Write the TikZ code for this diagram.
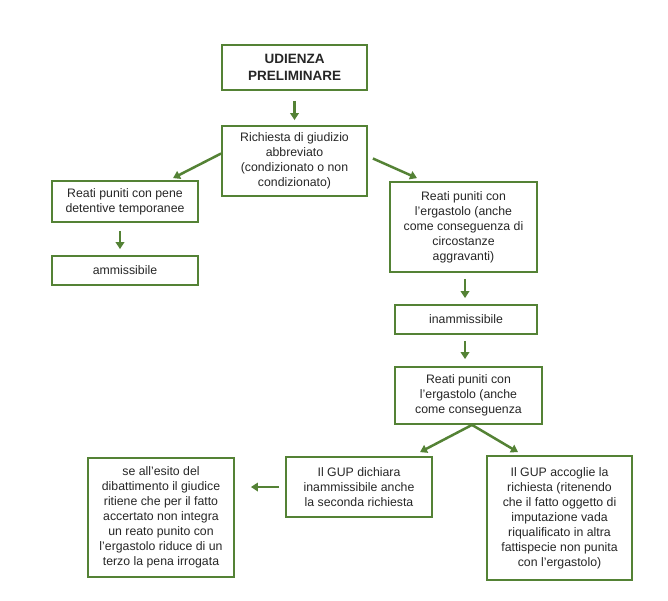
\documentclass[tikz,border=0pt]{standalone}
\usepackage{fontspec}
\setmainfont{Liberation Sans}
\usepackage{xcolor}
\usetikzlibrary{arrows.meta}
\definecolor{verde}{RGB}{84,130,53}

\begin{document}
\begin{tikzpicture}[x=1pt, y=-1pt,
        box/.style={draw=verde, line width=1.8pt, align=center, inner sep=2pt, text=black!85,
            font=\fontsize{12.3}{15}\selectfont},
        freccia/.style={draw=verde, line width=2.5pt, -{Triangle[length=7pt,width=8.5pt]}}
    ]
        \useasboundingbox (0,0) rectangle (668,600);
        \node[box, minimum width=145pt, minimum height=45pt, font=\bfseries\fontsize{13.5}{17}\selectfont] (udienza) at (294.5,67.5) {UDIENZA\\PRELIMINARE};
        \node[box, minimum width=145pt, minimum height=70pt] (richiesta) at (294.5,161) {Richiesta di giudizio\\abbreviato\\(condizionato o non\\condizionato)};
        \node[box, minimum width=146pt, minimum height=41pt] (pene) at (125,201.5) {Reati puniti con pene\\detentive temporanee};
        \node[box, minimum width=146pt, minimum height=29pt] (ammissibile) at (125,270.5) {ammissibile};
        \node[box, minimum width=147pt, minimum height=90pt] (ergastolo) at (463.5,227) {Reati puniti con\\l'ergastolo (anche\\come conseguenza di\\circostanze\\aggravanti)};
        \node[box, minimum width=142pt, minimum height=29pt] (inammissibile) at (466,319.5) {inammissibile};
        \node[box, minimum width=147pt, minimum height=57pt] (ergastolo2) at (468.5,395.5) {Reati puniti con\\l'ergastolo (anche\\come conseguenza};
        \node[box, minimum width=146pt, minimum height=60pt] (dichiara) at (359,487) {Il GUP dichiara\\inammissibile anche\\la seconda richiesta};
        \node[box, minimum width=145pt, minimum height=124pt] (accoglie) at (559.5,518) {Il GUP accoglie la\\richiesta (ritenendo\\che il fatto oggetto di\\imputazione vada\\riqualificato in altra\\fattispecie non punita\\con l'ergastolo)};
        \node[box, minimum width=146pt, minimum height=119pt] (riduzione) at (161,517.5) {se all'esito del\\dibattimento il giudice\\ritiene che per il fatto\\accertato non integra\\un reato punito con\\l'ergastolo riduce di un\\terzo la pena irrogata};

        \path[freccia, shorten <=10pt, shorten >=5pt] (udienza.south) -- (richiesta.north);
        \path[freccia] ([yshift=7.5pt]richiesta.west) -- ([xshift=48pt,yshift=2pt]pene.north);
        \path[freccia] ([xshift=5pt,yshift=2.5pt]richiesta.east) -- ([xshift=-46.5pt,yshift=3pt]ergastolo.north);
        \path[freccia, shorten <=8pt, shorten >=6pt] ([xshift=-5pt]pene.south) -- ([xshift=-5pt]ammissibile.north);
        \path[freccia, shorten <=6pt, shorten >=6pt] ([xshift=1.5pt]ergastolo.south) -- ([xshift=1.5pt]ergastolo.south |- inammissibile.north);
        \path[freccia, shorten <=6pt, shorten >=7pt] ([xshift=-1pt]inammissibile.south) -- ([xshift=-1pt]inammissibile.south |- ergastolo2.north);
        \path[freccia] ([xshift=3.5pt]ergastolo2.south) -- ([xshift=61pt,yshift=4pt]dichiara.north);
        \path[freccia] ([xshift=3.5pt]ergastolo2.south) -- ([xshift=-41.5pt,yshift=3pt]accoglie.north);
        \path[freccia, shorten <=6pt, shorten >=16pt] (dichiara.west) -- (dichiara.west -| riduzione.east);
    \end{tikzpicture}
\end{document}
